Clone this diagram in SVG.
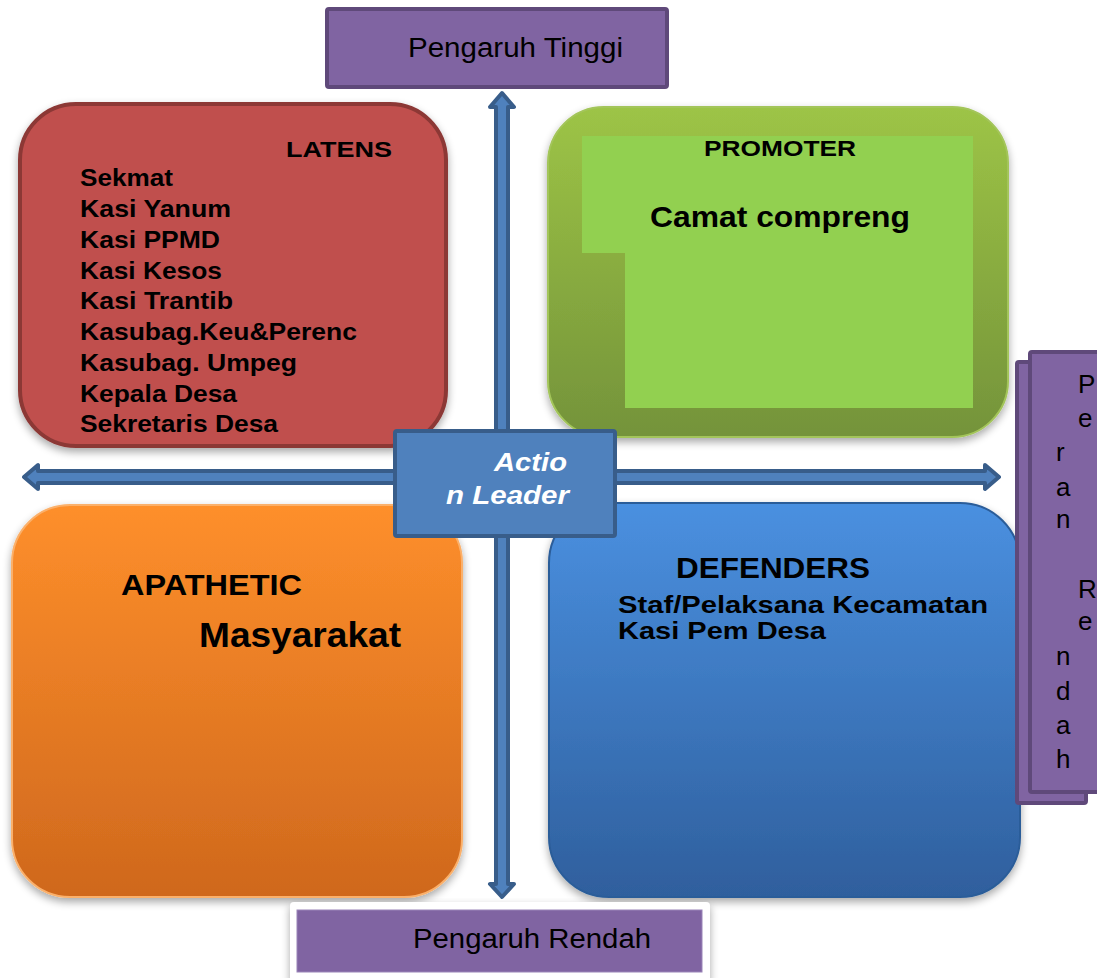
<svg xmlns="http://www.w3.org/2000/svg" width="1097" height="978" viewBox="0 0 1097 978">
<defs>
<style>
.lbl{font-family:"Liberation Sans",Arial,sans-serif;fill:#000}
.b{font-weight:bold}
.purple{fill:#8064a2;stroke:#5f497a;stroke-width:4}
.arrow{fill:#4f81bd;stroke:#385d8a;stroke-width:4;stroke-linejoin:round}
.al{font-family:"Liberation Sans",Arial,sans-serif;font-size:26px;font-weight:bold;font-style:italic;fill:#fff}
</style>
<linearGradient id="gGreen" x1="0" y1="0" x2="0" y2="1">
<stop offset="0" stop-color="#9dc446"/><stop offset="1" stop-color="#74933a"/>
</linearGradient>
<linearGradient id="gOrange" x1="0" y1="0" x2="0" y2="1">
<stop offset="0" stop-color="#fe8f2b"/><stop offset="1" stop-color="#cf681d"/>
</linearGradient>
<linearGradient id="gBlue" x1="0" y1="0" x2="0" y2="1">
<stop offset="0" stop-color="#4a90e0"/><stop offset="1" stop-color="#2f5f9d"/>
</linearGradient>
<filter id="sh" x="-10%" y="-10%" width="120%" height="125%">
<feGaussianBlur in="SourceAlpha" stdDeviation="4"/>
<feOffset dx="0" dy="4" result="o"/>
<feComponentTransfer><feFuncA type="linear" slope="0.35"/></feComponentTransfer>
<feMerge><feMergeNode/><feMergeNode in="SourceGraphic"/></feMerge>
</filter>
<clipPath id="clipLatens"><rect x="20" y="104" width="426" height="342" rx="56"/></clipPath>
</defs>

<rect width="1097" height="978" fill="#fff"/>

<g id="latens">
<rect x="20" y="104" width="426" height="342" rx="56" fill="#c0504d" stroke="#8c3836" stroke-width="4" filter="url(#sh)"/>
<text class="lbl b" x="286" y="157" font-size="22" textLength="106" lengthAdjust="spacingAndGlyphs">LATENS</text>
<g clip-path="url(#clipLatens)" font-size="24">
<text x="80" y="186" class="lbl b" textLength="93" lengthAdjust="spacingAndGlyphs">Sekmat</text>
<text x="80" y="217" class="lbl b" textLength="151" lengthAdjust="spacingAndGlyphs">Kasi Yanum</text>
<text x="80" y="248" class="lbl b" textLength="140" lengthAdjust="spacingAndGlyphs">Kasi PPMD</text>
<text x="80" y="279" class="lbl b" textLength="142" lengthAdjust="spacingAndGlyphs">Kasi Kesos</text>
<text x="80" y="309" class="lbl b" textLength="153" lengthAdjust="spacingAndGlyphs">Kasi Trantib</text>
<text x="80" y="340" class="lbl b" textLength="277" lengthAdjust="spacingAndGlyphs">Kasubag.Keu&amp;Perenc</text>
<text x="80" y="371" class="lbl b" textLength="217" lengthAdjust="spacingAndGlyphs">Kasubag. Umpeg</text>
<text x="80" y="402" class="lbl b" textLength="157" lengthAdjust="spacingAndGlyphs">Kepala Desa</text>
<text x="80" y="432" class="lbl b" textLength="198" lengthAdjust="spacingAndGlyphs">Sekretaris Desa</text>
</g>
</g>

<g id="promoter">
<rect x="548" y="107" width="460" height="330" rx="56" fill="url(#gGreen)" stroke="#a3c55a" stroke-width="2" filter="url(#sh)"/>
<polygon points="582,136 973,136 973,408 625,408 625,253 582,253" fill="#92d050"/>
<text class="lbl b" x="704" y="156" font-size="22" textLength="152" lengthAdjust="spacingAndGlyphs">PROMOTER</text>
<text class="lbl b" x="650" y="227" font-size="30" textLength="260" lengthAdjust="spacingAndGlyphs">Camat compreng</text>
</g>

<g id="apathetic">
<rect x="12" y="505" width="450" height="392" rx="58" fill="url(#gOrange)" stroke="#fbb06a" stroke-width="2" filter="url(#sh)"/>
<text class="lbl b" x="121" y="595" font-size="29" textLength="181" lengthAdjust="spacingAndGlyphs">APATHETIC</text>
<text class="lbl b" x="199" y="647" font-size="35" textLength="202" lengthAdjust="spacingAndGlyphs">Masyarakat</text>
</g>

<g id="defenders">
<rect x="549" y="503" width="471" height="394" rx="60" fill="url(#gBlue)" stroke="#2c5d99" stroke-width="2" filter="url(#sh)"/>
<text class="lbl b" x="676" y="578" font-size="29" textLength="194" lengthAdjust="spacingAndGlyphs">DEFENDERS</text>
<text class="lbl b" x="618" y="613" font-size="24" textLength="370" lengthAdjust="spacingAndGlyphs">Staf/Pelaksana Kecamatan</text>
<text class="lbl b" x="618" y="639" font-size="24" textLength="208" lengthAdjust="spacingAndGlyphs">Kasi Pem Desa</text>
</g>

<g id="connectors">
<polygon class="arrow" points="502,93 514,107 508,107 508,884 514,884 502,897 490,884 496,884 496,107 490,107"/>
<polygon class="arrow" points="24,477 38,465 38,471 985,471 985,465 999,477 985,489 985,483 38,483 38,489"/>
</g>

<g id="pengaruh-tinggi">
<rect class="purple" x="327" y="9" width="340" height="78" rx="2"/>
<text class="lbl" x="408" y="57" font-size="27" textLength="215" lengthAdjust="spacingAndGlyphs">Pengaruh Tinggi</text>
</g>

<g id="action-leader">
<rect x="395" y="431" width="220" height="105" fill="#4f81bd" stroke="#385d8a" stroke-width="4" rx="2"/>
<text class="al" x="494" y="471" textLength="73" lengthAdjust="spacingAndGlyphs">Actio</text>
<text class="al" x="446" y="504" textLength="123" lengthAdjust="spacingAndGlyphs">n Leader</text>
</g>

<g id="peran-rendah">
<rect class="purple" x="1017" y="362" width="69" height="441" rx="2"/>
<rect class="purple" x="1030" y="352" width="72" height="440" rx="2"/>
<g font-size="26">
<text x="1078" y="393" class="lbl">P</text>
<text x="1078" y="427" class="lbl">e</text>
<text x="1056" y="461" class="lbl">r</text>
<text x="1056" y="496" class="lbl">a</text>
<text x="1056" y="528" class="lbl">n</text>
<text x="1078" y="598" class="lbl">R</text>
<text x="1078" y="630" class="lbl">e</text>
<text x="1056" y="665" class="lbl">n</text>
<text x="1056" y="700" class="lbl">d</text>
<text x="1056" y="734" class="lbl">a</text>
<text x="1056" y="768" class="lbl">h</text>
</g>
</g>

<g id="pengaruh-rendah">
<rect x="290" y="902" width="420" height="80" rx="4" fill="#fff" filter="url(#sh)"/>
<rect x="297" y="910" width="405" height="62" fill="#8064a2" stroke="#9a84b8" stroke-width="1"/>
<text class="lbl" x="413" y="948" font-size="27" textLength="238" lengthAdjust="spacingAndGlyphs">Pengaruh Rendah</text>
</g>
</svg>
